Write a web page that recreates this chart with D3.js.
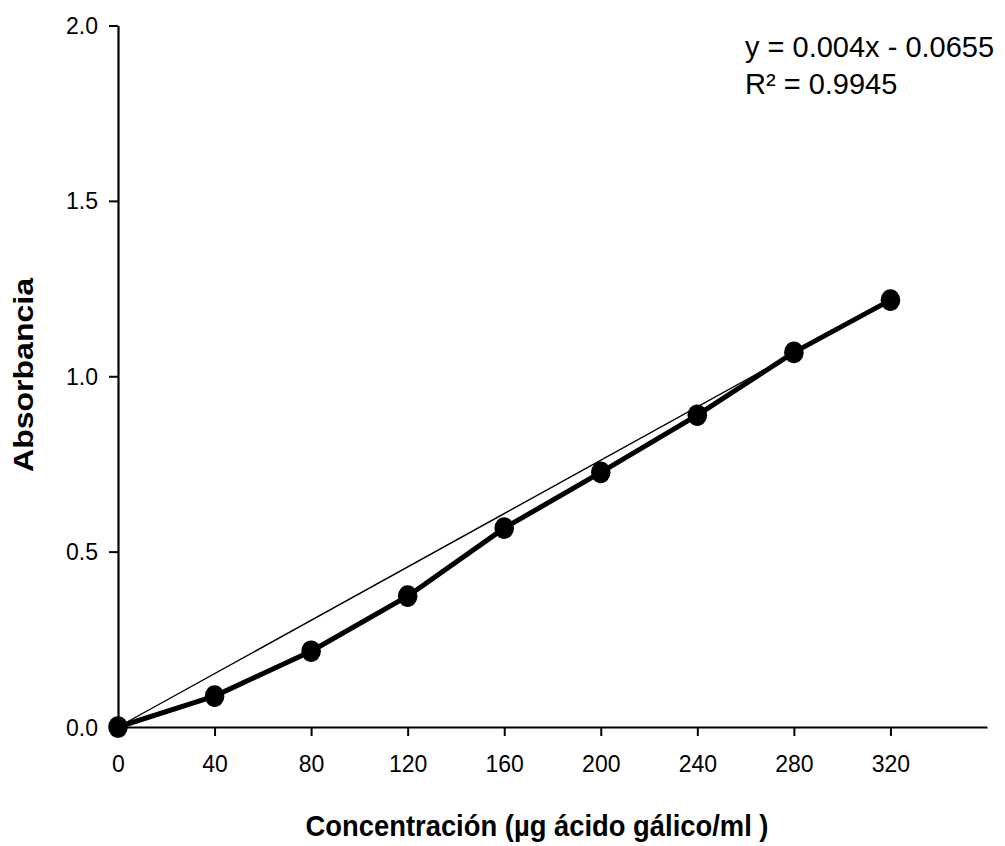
<!DOCTYPE html>
<html>
<head>
<meta charset="utf-8">
<script src="https://cdn.jsdelivr.net/npm/d3@7"></script>
<style>
  html, body { margin: 0; padding: 0; background: #fff; }
  svg { display: block; font-family: "Liberation Sans", Arial, sans-serif; }
</style>
</head>
<body>
<svg id="chart" width="1005" height="846"></svg>
<script>
// Gallic acid calibration curve
const concentrations = [0, 40, 80, 120, 160, 200, 240, 280, 320];
const absorbance = [0.0, 0.088, 0.216, 0.373, 0.567, 0.726, 0.889, 1.068, 1.217];
const trendX = [0, 320];
const trendY = [0.0, 1.217];
const xTicks = [0, 40, 80, 120, 160, 200, 240, 280, 320];
const yTicks = [0, 0.5, 1.0, 1.5, 2.0];
const equationLines = ["y = 0.004x - 0.0655", "R\u00B2 = 0.9945"];

const svg = d3.select("#chart");
const x = d3.scaleLinear().domain([0, 360]).range([118, 987]);
const y = d3.scaleLinear().domain([0, 2]).range([727, 25.5]);

// Axes
const xAxis = d3.axisBottom(x).tickValues(xTicks).tickSize(9).tickPadding(20)
  .tickSizeOuter(0).tickFormat(d3.format("d"));
const yAxis = d3.axisLeft(y).tickValues(yTicks).tickSize(9).tickPadding(11)
  .tickSizeOuter(0).tickFormat(d3.format(".1f"));

const gx = svg.append("g").attr("transform", `translate(0,${y(0)})`).call(xAxis);
const gy = svg.append("g").attr("transform", `translate(${x(0)},0)`).call(yAxis);
[gx, gy].forEach(g => {
  g.select(".domain").attr("stroke", "#000").attr("stroke-width", 2.2);
  g.selectAll(".tick line").attr("stroke", "#000").attr("stroke-width", 2);
  g.selectAll(".tick text").attr("fill", "#000").attr("font-size", 23)
    .attr("font-family", "Liberation Sans, Arial, sans-serif");
});
gx.selectAll(".tick text").attr("dy", "0.71em");
gy.selectAll(".tick text").attr("dy", "0.35em");

// Linear trend line
const trend = trendX.map((v, i) => [v, trendY[i]]);
svg.append("path")
  .datum(trend)
  .attr("fill", "none").attr("stroke", "#000").attr("stroke-width", 1.4)
  .attr("d", d3.line().x(d => x(d[0])).y(d => y(d[1])));

// Measured series
const pts = concentrations.map((c, i) => [c, absorbance[i]]);
svg.append("path")
  .datum(pts)
  .attr("fill", "none").attr("stroke", "#000").attr("stroke-width", 5)
  .attr("stroke-linejoin", "round")
  .attr("d", d3.line().x(d => x(d[0])).y(d => y(d[1])));

svg.append("g").selectAll("ellipse").data(pts).join("ellipse")
  .attr("cx", d => x(d[0])).attr("cy", d => y(d[1]))
  .attr("rx", 9.8).attr("ry", 10.8).attr("fill", "#000");

// Regression equation
svg.append("g").selectAll("text").data(equationLines).join("text")
  .attr("x", 745).attr("y", (d, i) => 57 + i * 36.5)
  .attr("font-size", 29).attr("fill", "#000")
  .text(d => d);

// Axis titles
svg.append("text")
  .attr("x", 537).attr("y", 836)
  .attr("text-anchor", "middle")
  .attr("font-size", 30).attr("font-weight", "bold")
  .attr("textLength", 463).attr("lengthAdjust", "spacingAndGlyphs")
  .text("Concentración (µg ácido gálico/ml )");

svg.append("text")
  .attr("transform", "translate(33,375) rotate(-90)")
  .attr("text-anchor", "middle")
  .attr("font-size", 28).attr("font-weight", "bold")
  .attr("textLength", 194).attr("lengthAdjust", "spacingAndGlyphs")
  .text("Absorbancia");
</script>
</body>
</html>
